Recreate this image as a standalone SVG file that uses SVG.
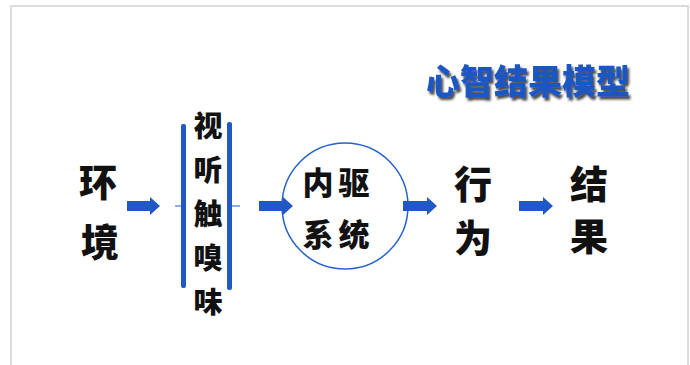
<svg xmlns="http://www.w3.org/2000/svg" width="690" height="365" viewBox="0 0 690 365">
  <defs>
    <filter id="shadow" x="-10%" y="-20%" width="130%" height="160%">
      <feDropShadow dx="2" dy="3" stdDeviation="1.2" flood-color="#222" flood-opacity="0.8"/>
    </filter>
  </defs>
  <style>
    .cn { font-family: "Noto Sans CJK SC", "Noto Sans", sans-serif; font-weight: 900; fill: #111; text-anchor: middle; }
    .title { font-family: "Noto Sans CJK SC", "Noto Sans", sans-serif; font-weight: 900; fill: #1F56C3; font-size: 34px; }
    .arrow { fill: #2058C6; }
    .bar { fill: #2058C6; }
    .tick { stroke: #2058C6; stroke-width: 1; }
  </style>
  <rect x="0" y="0" width="690" height="365" fill="#ffffff"/>
  <rect x="11" y="6" width="677" height="400" fill="#ffffff" stroke="#dcdcdc" stroke-width="2"/>

  <g id="title">
    <text class="title" x="426" y="94" filter="url(#shadow)" textLength="204" lengthAdjust="spacingAndGlyphs">心智结果模型</text>
  </g>

  <g id="node-env">
    <text class="cn" x="98" y="196" font-size="38">环</text>
    <text class="cn" x="100" y="256" font-size="38">境</text>
  </g>

  <g id="node-senses">
    <rect class="bar" x="181" y="124" width="5" height="164" rx="2"/>
    <rect class="bar" x="227" y="122" width="5" height="168" rx="2"/>
    <text class="cn" x="208" y="137" font-size="29">视</text>
    <text class="cn" x="208" y="181" font-size="29">听</text>
    <text class="cn" x="208" y="225" font-size="29">触</text>
    <text class="cn" x="208" y="269" font-size="29">嗅</text>
    <text class="cn" x="208" y="313" font-size="29">味</text>
  </g>

  <g id="node-drive">
    <circle cx="345" cy="206" r="63" fill="none" stroke="#2563C9" stroke-width="1.5"/>
    <text class="cn" x="318" y="194" font-size="31">内</text>
    <text class="cn" x="354" y="194" font-size="31">驱</text>
    <text class="cn" x="318" y="246" font-size="31">系</text>
    <text class="cn" x="354" y="246" font-size="31">统</text>
  </g>

  <g id="node-behavior">
    <text class="cn" x="473" y="198" font-size="38">行</text>
    <text class="cn" x="473" y="252" font-size="38">为</text>
  </g>

  <g id="node-result">
    <text class="cn" x="589" y="198" font-size="38">结</text>
    <text class="cn" x="589" y="250" font-size="38">果</text>
  </g>

  <g id="connectors">
    <line class="tick" x1="175" y1="206" x2="181" y2="206"/>
    <line class="tick" x1="232" y1="206" x2="240" y2="206"/>
    <polygon class="arrow" points="127,201 150,201 150,197 160,206 150,215 150,211 127,211"/>
    <polygon class="arrow" points="259,201 283,201 283,197 293,206 283,215 283,211 259,211"/>
    <polygon class="arrow" points="403,201 427,201 427,197 437,206 427,215 427,211 403,211"/>
    <polygon class="arrow" points="519,201 543,201 543,197 553,206 543,215 543,211 519,211"/>
  </g>
</svg>
